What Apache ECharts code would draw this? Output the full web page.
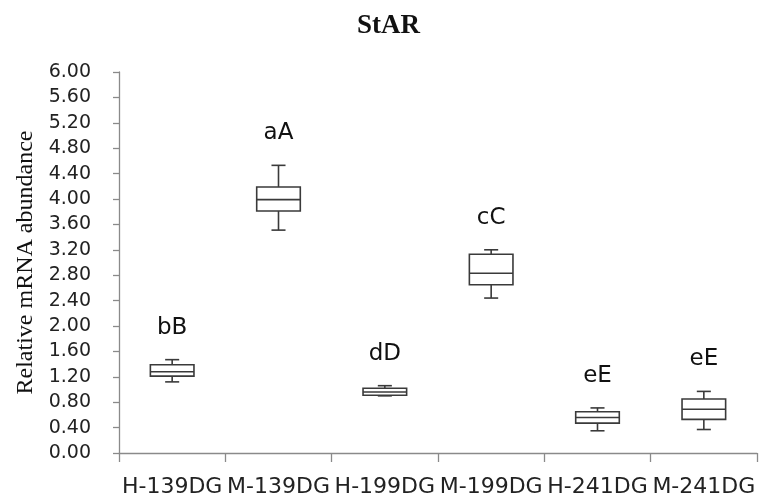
<!DOCTYPE html>
<html>
<head>
<meta charset="utf-8">
<script src="https://cdn.jsdelivr.net/npm/echarts@6/dist/echarts.min.js"></script>
<style>
  html, body { margin: 0; padding: 0; background: #fff; }
  #chart { width: 759px; height: 504px; }
</style>
</head>
<body>
<div id="chart"></div>
<script>
// Groups along the x axis
const categories = ['H-139DG', 'M-139DG', 'H-199DG', 'M-199DG', 'H-241DG', 'M-241DG'];

// Box statistics per group (relative mRNA abundance)
const whiskerLow  = [1.12, 3.51, 0.90, 2.44, 0.35, 0.37];
const quartile1   = [1.21, 3.81, 0.91, 2.65, 0.47, 0.53];
const medians     = [1.28, 3.99, 0.96, 2.83, 0.56, 0.69];
const quartile3   = [1.39, 4.19, 1.02, 3.13, 0.65, 0.85];
const whiskerHigh = [1.47, 4.53, 1.06, 3.20, 0.71, 0.97];

// Significance letters above each box
const letters = ['bB', 'aA', 'dD', 'cC', 'eE', 'eE'];

// Y axis ticks
const yMin = 0, yMax = 6, yStep = 0.4;

const rows = categories.map((c, i) => [i, whiskerLow[i], quartile1[i], medians[i], quartile3[i], whiskerHigh[i]]);

const chart = echarts.init(document.getElementById('chart'), null, { renderer: 'canvas' });

const lineColor = '#3a3a3a';

function renderBox(params, api) {
  const idx = api.value(0);
  const lo = api.coord([idx, api.value(1)]);
  const q1 = api.coord([idx, api.value(2)]);
  const md = api.coord([idx, api.value(3)]);
  const q3 = api.coord([idx, api.value(4)]);
  const hi = api.coord([idx, api.value(5)]);
  const band = api.size([1, 0])[0];
  const halfBox = band * 0.205;
  const halfCap = band * 0.066;
  const x = lo[0];
  const style = { stroke: lineColor, lineWidth: 1.6, fill: null };
  return {
    type: 'group',
    children: [
      { type: 'line', shape: { x1: x, y1: hi[1], x2: x, y2: q3[1] }, style },
      { type: 'line', shape: { x1: x, y1: q1[1], x2: x, y2: lo[1] }, style },
      { type: 'line', shape: { x1: x - halfCap, y1: hi[1], x2: x + halfCap, y2: hi[1] }, style },
      { type: 'line', shape: { x1: x - halfCap, y1: lo[1], x2: x + halfCap, y2: lo[1] }, style },
      { type: 'rect', shape: { x: x - halfBox, y: q3[1], width: halfBox * 2, height: q1[1] - q3[1] },
        style: { stroke: lineColor, lineWidth: 1.6, fill: '#ffffff' } },
      { type: 'line', shape: { x1: x - halfBox, y1: md[1], x2: x + halfBox, y2: md[1] }, style },
      { type: 'text', x: x, y: hi[1] - 32,
        style: { text: letters[idx], fill: '#111', font: '23px "DejaVu Sans"', align: 'center', verticalAlign: 'middle' } }
    ]
  };
}

chart.setOption({
  animation: false,
  backgroundColor: '#ffffff',
  title: {
    text: 'StAR',
    left: 352,
    top: 8,
    textStyle: { fontFamily: '"Liberation Serif", serif', fontWeight: 'bold', fontSize: 27, color: '#111' }
  },
  grid: { left: 119, right: 2, top: 72, bottom: 51, containLabel: false },
  xAxis: {
    type: 'category',
    data: categories,
    boundaryGap: true,
    axisLine: { lineStyle: { color: '#8a8a8a', width: 1.3 } },
    axisTick: { show: true, alignWithLabel: false, length: 9, lineStyle: { color: '#8a8a8a', width: 1.3 } },
    axisLabel: { margin: 23, color: '#222', fontFamily: '"DejaVu Sans"', fontSize: 22, interval: 0 },
    splitLine: { show: false }
  },
  yAxis: {
    type: 'value',
    min: yMin,
    max: yMax,
    interval: yStep,
    name: 'Relative mRNA abundance',
    nameLocation: 'middle',
    nameRotate: 90,
    nameGap: 78,
    nameTextStyle: { fontFamily: '"Liberation Serif", serif', fontSize: 24, color: '#111' },
    axisLine: { show: true, lineStyle: { color: '#8a8a8a', width: 1.3 } },
    axisTick: { show: true, length: 6, lineStyle: { color: '#8a8a8a', width: 1.3 } },
    axisLabel: {
      margin: 28, color: '#222', fontFamily: '"DejaVu Sans"', fontSize: 19,
      formatter: v => v.toFixed(2)
    },
    splitLine: { show: false }
  },
  series: [{
    type: 'custom',
    renderItem: renderBox,
    encode: { x: 0, y: [1, 2, 3, 4, 5] },
    data: rows
  }]
});
</script>
</body>
</html>
